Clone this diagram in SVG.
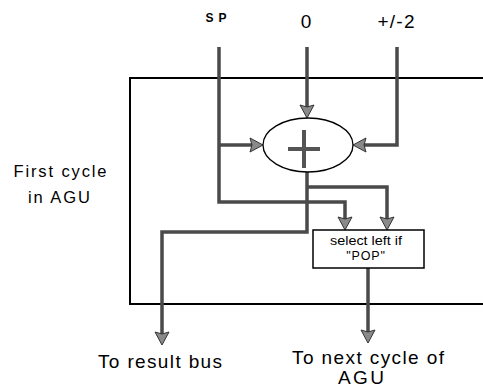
<svg xmlns="http://www.w3.org/2000/svg" width="483" height="387" viewBox="0 0 483 387">
  <style>
    .frame { fill: none; stroke: #000; stroke-width: 2; }
    .wire { fill: none; stroke: #4a4a4a; stroke-width: 3.5; stroke-linejoin: miter; }
    .box { fill: #fff; stroke: #000; stroke-width: 1.5; }
    .cross { stroke: #555; stroke-width: 4; stroke-linecap: butt; }
    text { font-family: "Liberation Sans", Arial, sans-serif; fill: #000; text-anchor: middle; }
    .big { font-size: 19px; }
    .mid { font-size: 16.5px; }
    .small { font-size: 12px; font-weight: bold; }
    .mux { font-size: 12.5px; }
  </style>
  <defs>
    <marker id="arr" viewBox="-10 -10 20 20" markerWidth="20" markerHeight="20" refX="0" refY="0" orient="auto" markerUnits="userSpaceOnUse">
      <path d="M7,0 L-6,-7 L-4,0 L-6,7 Z" fill="#8a8a8a" stroke="#333" stroke-width="1"/>
    </marker>
  </defs>
  <rect width="483" height="387" fill="#fff"/>

  <g id="frame">
    <path class="frame" d="M483,78 H130 V304 H483"/>
  </g>

  <g id="labels">
    <text class="small" x="216" y="22" textLength="21" lengthAdjust="spacing">SP</text>
    <text class="big" x="306" y="28">0</text>
    <text class="big" x="396" y="28" textLength="37" lengthAdjust="spacing">+/-2</text>
    <text class="mid" x="60" y="177" textLength="93" lengthAdjust="spacing">First cycle</text>
    <text class="mid" x="59" y="203" textLength="62" lengthAdjust="spacing">in AGU</text>
    <text class="big" x="160" y="368" textLength="124" lengthAdjust="spacing">To result bus</text>
    <text class="big" x="368" y="364" textLength="152" lengthAdjust="spacing">To next cycle of</text>
    <text class="big" x="361" y="384" textLength="46" lengthAdjust="spacing">AGU</text>
  </g>

  <g id="connectors">
    <path class="wire" d="M219,47 V202 H345 V223" marker-end="url(#arr)"/>
    <path class="wire" d="M219,145 H256" marker-end="url(#arr)"/>
    <path class="wire" d="M307,47 V111" marker-end="url(#arr)"/>
    <path class="wire" d="M397,47 V145 H360" marker-end="url(#arr)"/>
    <path class="wire" d="M307,172 V232 H162 V338" marker-end="url(#arr)"/>
    <path class="wire" d="M307,187 H387 V223" marker-end="url(#arr)"/>
    <path class="wire" d="M368,268 V336" marker-end="url(#arr)"/>
  </g>

  <g id="adder">
    <ellipse cx="308" cy="145" rx="45" ry="27" fill="#fff" stroke="#000" stroke-width="1.3"/>
    <line class="cross" x1="288" y1="149" x2="320" y2="149"/>
    <line class="cross" x1="304" y1="130" x2="304" y2="168"/>
  </g>

  <g id="mux">
    <rect class="box" x="313" y="230" width="111" height="38"/>
    <text class="mux" x="366" y="245" textLength="72" lengthAdjust="spacingAndGlyphs">select left if</text>
    <text class="mux" x="366" y="260" letter-spacing="0.8">"POP"</text>
  </g>
</svg>
